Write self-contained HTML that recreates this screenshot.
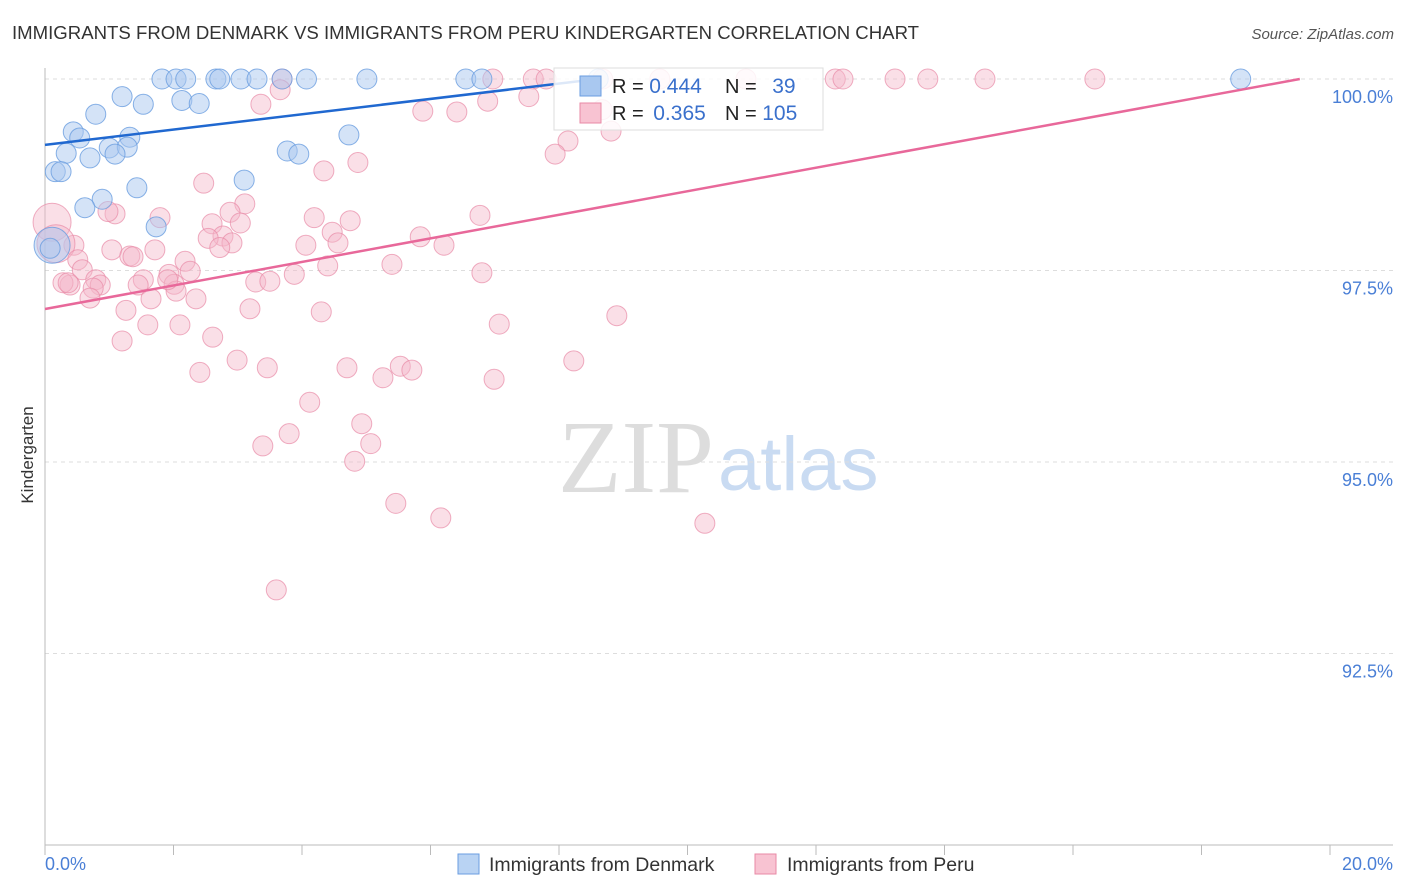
<!DOCTYPE html>
<html><head><meta charset="utf-8"><style>
body{margin:0;background:#fff;font-family:"Liberation Sans",sans-serif;}
svg{display:block}
</style></head><body>
<svg id="c" width="1406" height="892">
<text x="12" y="39" font-size="18.6" fill="#333">IMMIGRANTS FROM DENMARK VS IMMIGRANTS FROM PERU KINDERGARTEN CORRELATION CHART</text>
<text x="1394" y="39" font-size="15" fill="#555" font-style="italic" text-anchor="end">Source: ZipAtlas.com</text>
<text x="714" y="492" font-size="104" fill="#ddd" font-family="Liberation Serif,serif" text-anchor="end">ZIP</text>
<text x="718" y="490" font-size="76" fill="#c9dbf2">atlas</text>
<g id="grid"></g><g id="axes"></g><g id="pts"></g><g id="lines"></g>
<g>
<rect x="554" y="68" width="269" height="62" fill="#fff" fill-opacity="0.85" stroke="#ddd"/>
<rect x="580" y="76" width="21" height="20" fill="#a9c8f0" stroke="#6a9de0"/>
<rect x="580" y="103" width="21" height="20" fill="#f8c3d2" stroke="#e88aa6"/>
<text x="612" y="93" font-size="20" fill="#222">R = <tspan fill="#3a70cc" font-size="21">0.444</tspan></text>
<text x="725" y="93" font-size="20" fill="#222">N = <tspan fill="#3a70cc" dx="10" font-size="21">39</tspan></text>
<text x="612" y="120" font-size="20" fill="#222">R = <tspan fill="#3a70cc" dx="4" font-size="21">0.365</tspan></text>
<text x="725" y="120" font-size="20" fill="#222">N = <tspan fill="#3a70cc" font-size="21">105</tspan></text>
</g>
<g>
<rect x="458" y="854" width="21" height="20" fill="#b9d3f3" stroke="#6a9de0"/>
<text x="489" y="871" font-size="19.5" fill="#333">Immigrants from Denmark</text>
<rect x="755" y="854" width="21" height="20" fill="#f8c3d2" stroke="#e88aa6"/>
<text x="787" y="871" font-size="19.5" fill="#333">Immigrants from Peru</text>
</g>
<text transform="translate(33,455) rotate(-90)" font-size="17" fill="#333" text-anchor="middle">Kindergarten</text>
</svg>
<script>
const yTicks=[100,97.5,95,92.5];
const yTickLabels=["100.0%","97.5%","95.0%","92.5%"];
const xTickLabels=["0.0%","20.0%"];
const denX=[1.82,2.04,2.19,2.66,2.72,3.05,3.30,3.69,4.07,5.01,6.55,6.80,8.61,18.61,1.20,0.79,1.53,2.13,2.40,0.44,0.54,1.32,1.00,1.28,0.33,0.70,1.09,3.77,3.95,4.73,0.16,0.25,1.43,3.10,0.89,0.62,1.73,0.11,0.08];
const denY=[100,100,100,100,100,100,100,100,100,100,100,100,100,100,99.77,99.54,99.67,99.72,99.68,99.31,99.23,99.24,99.10,99.11,99.03,98.97,99.02,99.06,99.02,99.27,98.79,98.79,98.58,98.68,98.43,98.32,98.07,97.83,97.79];
const denR=[10,10,10,10,10,10,10,10,10,10,10,10,10,10,10,10,10,10,10,10,10,10,10,10,10,10,10,10,10,10,10,10,10,10,10,10,10,18,10];
const peruX=[3.69,6.97,7.60,7.80,8.68,9.57,10.91,12.30,12.42,13.23,13.74,14.63,16.34,3.66,3.36,6.89,7.53,5.88,6.41,8.67,8.14,7.94,8.81,4.87,4.34,2.47,3.11,1.79,1.09,0.98,2.88,2.60,3.04,4.19,4.75,6.77,4.47,4.56,4.06,2.77,2.54,2.91,2.72,5.84,6.21,0.45,0.11,0.17,1.04,1.71,1.32,1.37,0.51,2.18,0.58,2.26,1.93,1.53,0.79,0.86,0.75,0.39,0.28,0.36,1.45,2.01,2.04,1.91,3.28,3.50,3.88,4.40,5.40,6.80,0.70,1.65,2.35,1.26,3.19,4.30,8.90,7.07,1.60,2.10,2.61,1.20,2.99,2.41,3.46,4.70,5.53,5.71,5.26,6.99,8.23,4.12,4.93,3.80,5.07,3.39,4.82,5.46,6.16,10.27,3.60];
const peruY=[100,100,100,100,100,100,100,100,100,100,100,100,100,99.86,99.67,99.71,99.77,99.58,99.57,99.60,99.19,99.02,99.32,98.91,98.80,98.64,98.37,98.19,98.24,98.27,98.26,98.11,98.12,98.19,98.15,98.22,98.00,97.86,97.83,97.95,97.92,97.86,97.80,97.94,97.83,97.83,98.13,97.85,97.77,97.77,97.69,97.68,97.64,97.62,97.51,97.49,97.45,97.38,97.38,97.31,97.27,97.31,97.34,97.34,97.31,97.32,97.23,97.38,97.35,97.36,97.45,97.56,97.58,97.47,97.14,97.13,97.13,96.98,97.00,96.96,96.91,96.80,96.79,96.79,96.63,96.58,96.33,96.17,96.23,96.23,96.25,96.20,96.10,96.08,96.32,95.78,95.50,95.37,95.24,95.21,95.01,94.46,94.27,94.20,93.33];
const denTrendX=[0,8.6], denTrendY=[99.14,100.0];
const peruTrendX=[0,19.53], peruTrendY=[96.997,100.0];
const NS="http://www.w3.org/2000/svg";
const L=45,R=1330,T=79,B=845;
const sx=v=>L+(v/20)*(R-L);
const sy=v=>B-(v-90)/10*(B-T);
function mk(tag,attrs,parent){const e=document.createElementNS(NS,tag);for(const k in attrs)e.setAttribute(k,attrs[k]);document.getElementById(parent).appendChild(e);return e;}
yTicks.forEach((t,i)=>{
 const g=mk('line',{x1:L,x2:1393,y1:sy(t),y2:sy(t),stroke:'#ddd','stroke-dasharray':'4,4'},'grid');
 
 
 const tx=mk('text',{x:1393,y:sy(t)+24,'font-size':18,fill:'#4a7fd6','text-anchor':'end'},'axes');
 tx.textContent=yTickLabels[i];
 
 
});
let ax=mk('line',{x1:L,x2:L,y1:68,y2:B,stroke:'#bbb'},'axes');


ax=mk('line',{x1:L,x2:1393,y1:B,y2:B,stroke:'#bbb'},'axes');


for(let i=0;i<=10;i++){
 const tk=mk('line',{x1:sx(i*2),x2:sx(i*2),y1:B,y2:B+10,stroke:'#bbb'},'axes');
 
 
}
let xl=mk('text',{x:45,y:870,'font-size':18,fill:'#4a7fd6'},'axes');xl.textContent=xTickLabels[0];


xl=mk('text',{x:1393,y:870,'font-size':18,fill:'#4a7fd6','text-anchor':'end'},'axes');xl.textContent=xTickLabels[1];


peruX.forEach((v,i)=>{
 const r=(i==46||i==47)?19:10;
 const c=mk('circle',{cx:sx(v),cy:sy(peruY[i]),r:r,fill:'#f5b8c9','fill-opacity':0.45,stroke:'#e88aa6','stroke-opacity':0.7},'pts');
 
 
});
denX.forEach((v,i)=>{
 const c=mk('circle',{cx:sx(v),cy:sy(denY[i]),r:denR[i],fill:'#a9c8f0','fill-opacity':0.5,stroke:'#6a9de0','stroke-opacity':0.8},'pts');
 
 
});
let ln=mk('line',{x1:sx(denTrendX[0]),y1:sy(denTrendY[0]),x2:sx(denTrendX[1]),y2:sy(denTrendY[1]),stroke:'#2068d0','stroke-width':2.5},'lines');


ln=mk('line',{x1:sx(peruTrendX[0]),y1:sy(peruTrendY[0]),x2:sx(peruTrendX[1]),y2:sy(peruTrendY[1]),stroke:'#e8689a','stroke-width':2.5},'lines');


</script>
</body></html>
